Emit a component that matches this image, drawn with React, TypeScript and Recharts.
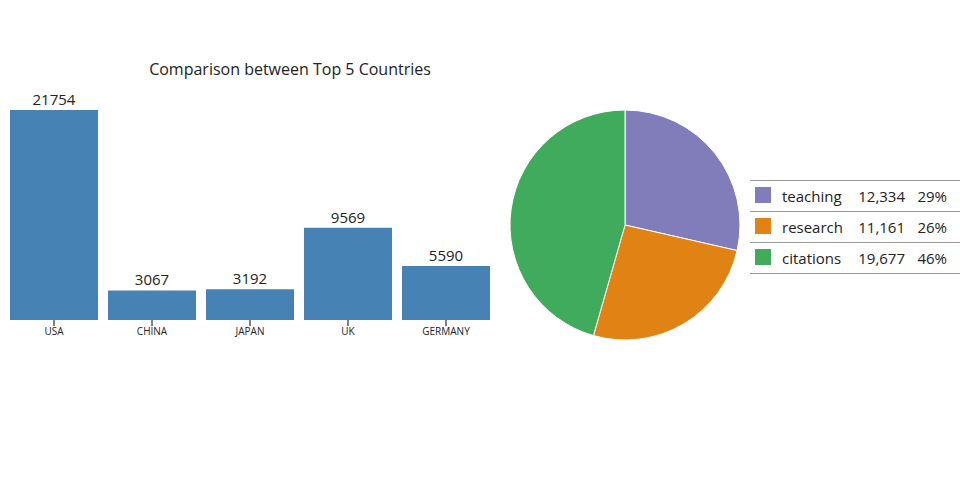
import React from "react";
import { BarChart, Bar, XAxis, YAxis, LabelList, PieChart, Pie, Cell } from "recharts";

const countries = ["USA", "CHINA", "JAPAN", "UK", "GERMANY"];
const countryValues = [21754, 3067, 3192, 9569, 5590];

const pieLabels = ["teaching", "research", "citations"];
const pieValues = [12334, 11161, 19677];
const pieColors = ["#807dba", "#e08214", "#41ab5d"];

const barData = countries.map((name, i) => ({ name, value: countryValues[i] }));
const pieData = pieLabels.map((name, i) => ({ name, value: pieValues[i] }));
const pieTotal = pieValues.reduce((a, b) => a + b, 0);

const font = "'Open Sans', sans-serif";

function LegendTable() {
  return (
    <div style={{ position: "absolute", left: 750, top: 180, width: 210, borderTop: "1px solid #999", fontFamily: font, fontSize: 15, color: "#222" }}>
      {pieData.map((d, i) => (
        <div key={d.name} style={{ position: "relative", height: 30, borderBottom: "1px solid #999" }}>
          <div style={{ position: "absolute", left: 5, top: 6, width: 16, height: 16, background: pieColors[i] }} />
          <div style={{ position: "absolute", left: 32, top: 5, lineHeight: "20px" }}>{d.name}</div>
          <div style={{ position: "absolute", right: 55, top: 5, lineHeight: "20px" }}>{d.value.toLocaleString("en-US")}</div>
          <div style={{ position: "absolute", right: 13, top: 5, lineHeight: "20px" }}>{Math.round((d.value / pieTotal) * 100)}%</div>
        </div>
      ))}
    </div>
  );
}

export default function App() {
  return (
    <div style={{ position: "absolute", left: 0, top: 0, width: 960, height: 500, background: "#fff", fontFamily: font }}>
      <div style={{ position: "absolute", left: 90, width: 400, top: 58, textAlign: "center", fontSize: 16, color: "#222" }}>
        Comparison between Top 5 Countries
      </div>
      <div style={{ position: "absolute", left: 0, top: 0 }}>
        <BarChart width={500} height={350} data={barData} margin={{ top: 110, right: 5, left: 5, bottom: 0 }} barCategoryGap={5}>
          <XAxis
            dataKey="name"
            axisLine={false}
            tickLine={{ stroke: "#000" }}
            tickSize={6}
            height={30}
            interval={0}
            tick={{ fontSize: 10, fill: "#222", fontFamily: font }}
          />
          <YAxis hide domain={[0, "dataMax"]} />
          <Bar dataKey="value" fill="#4682b4" isAnimationActive={false}>
            <LabelList dataKey="value" position="top" offset={5} style={{ fontSize: 15, fill: "#222", fontFamily: font }} />
          </Bar>
        </BarChart>
      </div>
      <div style={{ position: "absolute", left: 500, top: 100 }}>
        <PieChart width={250} height={250}>
          <Pie
            data={pieData}
            dataKey="value"
            cx={120}
            cy={120}
            outerRadius={115}
            startAngle={90}
            endAngle={-270}
            stroke="#fff"
            strokeWidth={1}
            isAnimationActive={false}
          >
            {pieData.map((d, i) => (
              <Cell key={d.name} fill={pieColors[i]} />
            ))}
          </Pie>
        </PieChart>
      </div>
      <LegendTable />
    </div>
  );
}
